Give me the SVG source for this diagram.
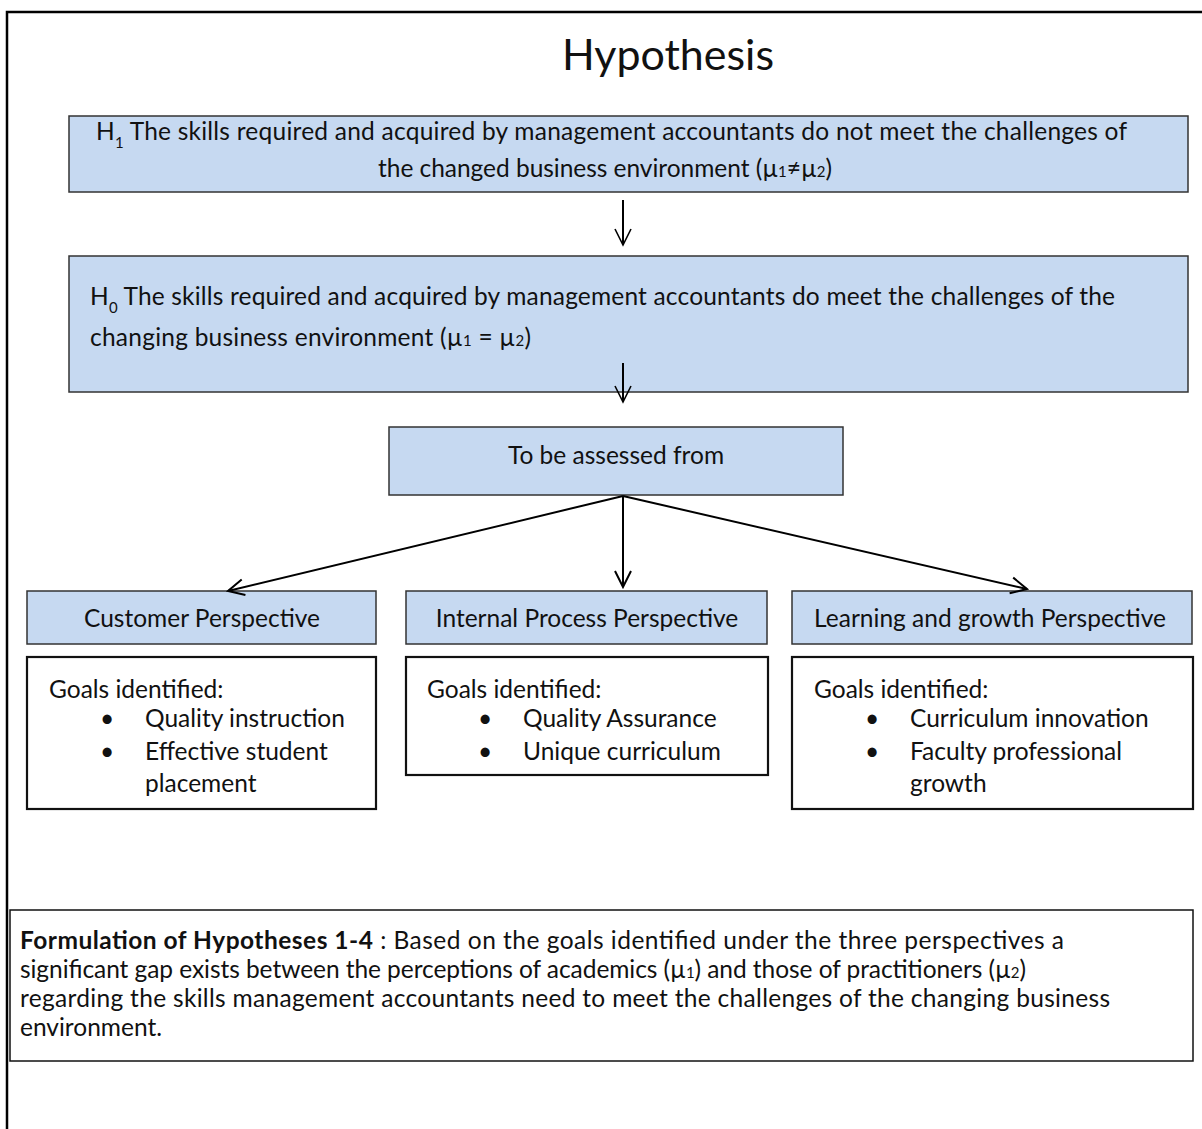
<svg xmlns="http://www.w3.org/2000/svg" width="1202" height="1129" viewBox="0 0 1202 1129">
<defs>
<marker id="ah" viewBox="0 0 20 20" refX="18" refY="10" markerWidth="20" markerHeight="20" markerUnits="userSpaceOnUse" orient="auto">
<path d="M2,2 L18,10 L2,18" fill="none" stroke="#000" stroke-width="2"/>
</marker>
<marker id="ah2" viewBox="0 0 20 20" refX="18" refY="10" markerWidth="20" markerHeight="20" markerUnits="userSpaceOnUse" orient="auto">
<path d="M2,2 L18,10 L2,18" fill="none" stroke="#000" stroke-width="1.6"/>
</marker>
</defs>
<style>
text{font-family:Lato,"Liberation Sans",sans-serif;fill:#111;font-size:24.5px}
.blue{fill:#c6d9f1;stroke:#333;stroke-width:1.5}
.white{fill:#fff;stroke:#111;stroke-width:2.2}
.c{text-anchor:middle}
.sub{font-size:15px}
.conn{stroke:#000;stroke-width:2;fill:none}
</style>
<rect width="1202" height="1129" fill="#fff"/>
<path d="M7,1140 L7,12 L1210,12" fill="none" stroke="#000" stroke-width="2.5"/>
<text id="title" x="668" y="70" class="c" style="font-size:42px" textLength="212" lengthAdjust="spacingAndGlyphs">Hypothesis</text>
<g id="h1">
<rect class="blue" x="69" y="116" width="1119" height="76"/>
<text x="96" y="140" textLength="1031">H<tspan dy="8" class="sub">1</tspan><tspan dy="-8"> The skills required and acquired by management accountants do not meet the challenges of</tspan></text>
<text x="605" y="177" class="c" textLength="454">the changed business environment (µ<tspan class="sub">1</tspan>≠µ<tspan class="sub">2</tspan>)</text>
</g>
<g id="h0">
<rect class="blue" x="69" y="256" width="1119" height="136"/>
<text x="90" y="305" textLength="1025">H<tspan dy="8" class="sub">0</tspan><tspan dy="-8"> The skills required and acquired by management accountants do meet the challenges of the</tspan></text>
<text x="90" y="346" textLength="441">changing business environment (µ<tspan class="sub">1</tspan> = µ<tspan class="sub">2</tspan>)</text>
</g>
<g id="assess">
<rect class="blue" x="389" y="427" width="454" height="68"/>
<text x="616" y="464" class="c">To be assessed from</text>
</g>
<g id="customer">
<rect class="blue" x="27" y="591" width="349" height="53"/>
<text x="202" y="627" class="c">Customer Perspective</text>
</g>
<g id="internal">
<rect class="blue" x="406" y="591" width="361" height="53"/>
<text x="587" y="627" class="c">Internal Process Perspective</text>
</g>
<g id="learning">
<rect class="blue" x="792" y="591" width="400" height="53"/>
<text x="990" y="627" class="c">Learning and growth Perspective</text>
</g>
<g id="customer-goals">
<rect class="white" x="27" y="657" width="349" height="152"/>
<text x="49" y="698">Goals identified:</text>
<text x="100" y="727">•</text><text x="145" y="727">Quality instruction</text>
<text x="100" y="760">•</text><text x="145" y="760">Effective student</text>
<text x="145" y="792">placement</text>
</g>
<g id="internal-goals">
<rect class="white" x="406" y="657" width="362" height="118"/>
<text x="427" y="698">Goals identified:</text>
<text x="478" y="727">•</text><text x="523" y="727">Quality Assurance</text>
<text x="478" y="760">•</text><text x="523" y="760">Unique curriculum</text>
</g>
<g id="learning-goals">
<rect class="white" x="792" y="657" width="401" height="152"/>
<text x="814" y="698">Goals identified:</text>
<text x="865" y="727">•</text><text x="910" y="727">Curriculum innovation</text>
<text x="865" y="760">•</text><text x="910" y="760">Faculty professional</text>
<text x="910" y="792">growth</text>
</g>
<g id="formulation">
<rect x="10" y="910" width="1183" height="151" fill="#fff" stroke="#111" stroke-width="1.5"/>
<text x="20" y="949" textLength="1044"><tspan font-weight="bold">Formulation of Hypotheses 1-4</tspan> :   Based on the goals identified under the three perspectives a</text>
<text x="20" y="978" textLength="1006">significant gap exists between the perceptions of academics  (µ<tspan class="sub">1</tspan>) and those of practitioners (µ<tspan class="sub">2</tspan>)</text>
<text x="20" y="1007" textLength="1090">regarding the skills management accountants need to meet the challenges of the changing business</text>
<text x="20" y="1036">environment.</text>
</g>
<g id="connectors">
<line class="conn" x1="623" y1="200" x2="623" y2="245" marker-end="url(#ah2)"/>
<line class="conn" x1="623" y1="363" x2="623" y2="402" marker-end="url(#ah2)"/>
<line class="conn" x1="623" y1="496" x2="228" y2="591" marker-end="url(#ah)"/>
<line class="conn" x1="623" y1="496" x2="623" y2="587" marker-end="url(#ah)"/>
<line class="conn" x1="623" y1="496" x2="1027" y2="589" marker-end="url(#ah)"/>
</g>
</svg>
